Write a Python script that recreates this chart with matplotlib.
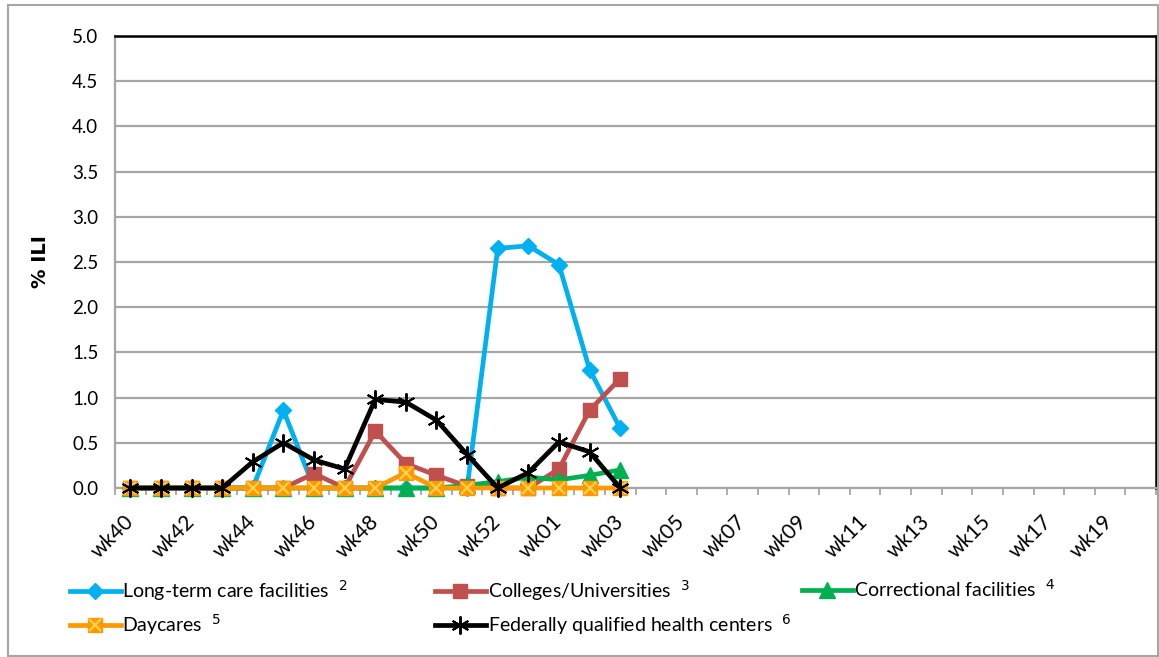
import numpy as np
import matplotlib.pyplot as plt
from matplotlib.patches import Rectangle

plt.rcParams['font.family'] = ['Lato', 'DejaVu Sans']

# week categories of the season (2014 has a week 53)
weeks = ['wk%02d' % w for w in range(40, 54)] + ['wk%02d' % w for w in range(1, 21)]
tick_labels = [w if i % 2 == 0 else '' for i, w in enumerate(weeks)]

# % ILI by setting, reported weeks wk40 .. wk03
ltc = [0, 0, 0, 0, 0, 0.86, 0, 0, 0, 0, 0, 0, 2.65, 2.68, 2.47, 1.31, 0.66]
colleges = [0, 0, 0, 0, 0, 0, 0.16, 0, 0.63, 0.27, 0.14, 0.02, 0, 0, 0.21, 0.86, 1.21]
correctional = [0, 0, 0, 0, 0, 0, 0, 0, 0, 0, 0, 0.03, 0.07, 0.12, 0.09, 0.14, 0.20]
daycares = [0, 0, 0, 0, 0, 0, 0, 0, 0, 0.17, 0, 0, 0, 0, 0, 0, 0]
fqhc = [0, 0, 0, 0, 0.29, 0.50, 0.31, 0.21, 0.98, 0.95, 0.75, 0.37, 0, 0.17, 0.51, 0.40, 0]

names = ['Long-term care facilities', 'Colleges/Universities', 'Correctional facilities',
         'Daycares', 'Federally qualified health centers']
notes = ['2', '3', '4', '5', '6']

fig = plt.figure(figsize=(11.59, 6.57), dpi=100)
ax = fig.add_axes([115 / 1159, 1 - 488 / 657, 1041 / 1159, 452 / 657])

x = np.arange(len(ltc))
lw = 3.4
h1, = ax.plot(x, ltc, color='#00B0F0', lw=lw, marker='D', ms=8, clip_on=False, zorder=3)
h2, = ax.plot(x, colleges, color='#C0504D', lw=lw, marker='s', ms=10, clip_on=False, zorder=3)
h3, = ax.plot(x, correctional, color='#00B050', lw=lw, marker='^', ms=11, clip_on=False, zorder=3)
h4, = ax.plot(x, daycares, color='#FF9900', lw=lw, marker='s', ms=10, clip_on=False, zorder=3)
h4x, = ax.plot(x, daycares, ls='none', marker='x', ms=8, mew=1.6, color='#FFD24D',
               clip_on=False, zorder=3)
h5, = ax.plot(x, fqhc, color='black', lw=lw, marker=(6, 2, 0), ms=13, mew=1.4,
              clip_on=False, zorder=3)

ax.set_xlim(-0.5, len(weeks) - 0.5)
ax.set_ylim(0, 5)
ax.set_yticks(np.arange(0, 5.01, 0.5))
ax.set_yticklabels(['%.1f' % v for v in np.arange(0, 5.01, 0.5)], fontsize=13.5)
ax.yaxis.grid(True, color='#A6A6A6', lw=1.6)
ax.set_axisbelow(True)
ax.tick_params(axis='y', length=0, pad=12)

ax.set_xticks(np.arange(len(weeks)))
ax.set_xticklabels(tick_labels, rotation=45, ha='right', va='center',
                   rotation_mode='anchor', fontsize=15)
ax.set_xticks(np.arange(-0.5, len(weeks)), minor=True)
ax.tick_params(axis='x', which='major', length=0, pad=22)
ax.tick_params(axis='x', which='minor', length=5, color='#A6A6A6', width=1.3)

for side in ['left', 'bottom']:
    ax.spines[side].set_color('#A6A6A6')
    ax.spines[side].set_linewidth(1.6)
for side in ['top', 'right']:
    ax.spines[side].set_color('black')
    ax.spines[side].set_linewidth(1.8)

ax.set_ylabel('% ILI', fontsize=14, fontweight='bold', family='DejaVu Sans', labelpad=16)

# legend in three manual columns
labels = ['%s  $^{%s}$' % (n, s) for n, s in zip(names, notes)]
h_day = (h4, h4x)
cols = [([h1, h_day], [labels[0], labels[3]], 70),
        ([h2, h5], [labels[1], labels[4]], 435),
        ([h3], [labels[2]], 802)]
for hs, ls, px in cols:
    fig.legend(hs, ls, loc='upper left', bbox_to_anchor=(px / 1159, 1 - 578 / 657),
               frameon=False, fontsize=14, handlelength=2.6, handletextpad=0.1,
               labelspacing=0.45, borderaxespad=0, borderpad=0)

fig.patches.append(Rectangle((8 / 1159, 1 / 657), 1150 / 1159, 651 / 657,
                             transform=fig.transFigure, fill=False,
                             edgecolor='#A6A6A6', lw=1.5))

fig.savefig('out.png', dpi=100)
